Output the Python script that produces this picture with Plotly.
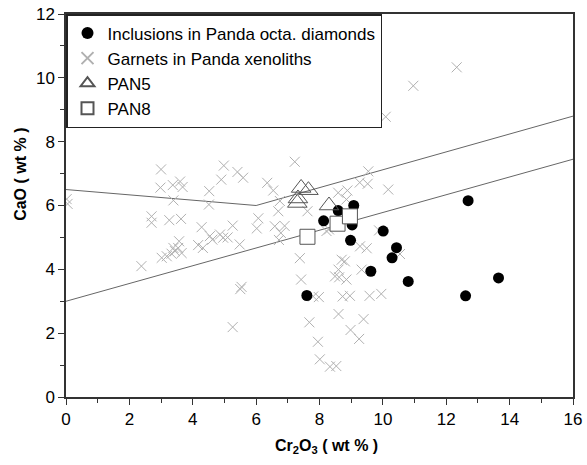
import plotly.graph_objects as go

# Garnets in Panda xenoliths (Cr2O3, CaO)
garnet_cr = [0.02, 0.05, 2.38, 2.7, 2.7, 3.0, 2.98, 3.37, 3.6, 3.68, 3.39, 3.26, 3.63,
             3.02, 3.18, 3.33, 3.44, 3.54, 3.57, 3.65, 3.39, 4.52, 4.51, 4.98, 4.9, 5.41, 5.59,
             4.28, 4.54, 4.62, 4.86, 4.96, 5.1, 5.26, 4.17, 4.32, 5.48, 5.54, 5.5, 5.26,
             6.35, 6.54, 6.75, 6.7, 6.07, 6.02, 6.59, 6.9, 6.78, 6.72, 7.22, 7.62,
             7.38, 7.42, 7.8, 7.98, 7.68, 7.95, 8.01, 8.33, 8.53, 8.6, 9.39, 8.98, 9.25,
             8.73, 8.96, 9.58, 9.95, 8.7, 8.8, 8.6, 8.49, 8.62, 8.85, 9.33,
             9.28, 9.49, 10.54, 8.22, 8.3, 9.88, 8.59, 8.88, 8.85,
             9.27, 9.52, 9.54, 10.17, 10.09, 10.96, 12.33]
garnet_ca = [6.2, 6.05, 4.1, 5.66, 5.46, 7.13, 6.56, 6.64, 6.75, 6.58, 6.16, 5.54, 5.58,
             4.36, 4.41, 4.49, 4.57, 4.67, 4.88, 4.51, 4.67, 6.45, 6.03, 7.25, 6.81, 7.05, 6.87,
             5.32, 5.04, 4.93, 5.09, 4.99, 5.0, 5.37, 4.76, 4.67, 4.78, 3.45, 3.38, 2.19,
             6.71, 6.47, 6.14, 5.82, 5.6, 5.28, 5.35, 5.36, 5.14, 4.92, 7.37, 5.82,
             4.35, 3.68, 3.15, 3.13, 2.34, 1.73, 1.18, 0.95, 0.97, 2.6, 2.44, 2.1, 1.82,
             3.15, 3.17, 3.17, 3.23, 4.3, 4.25, 3.99, 3.78, 3.75, 3.68, 3.99,
             4.72, 4.66, 4.48, 5.2, 5.25, 5.22, 6.4, 6.47, 6.19,
             6.72, 6.68, 7.07, 6.5, 8.78, 9.75, 10.33]

# Inclusions in Panda octahedral diamonds
incl_cr = [7.6, 8.13, 8.59, 9.08, 9.03, 8.98, 9.62, 10.01, 10.43, 10.29, 10.8, 12.69, 12.61, 13.65]
incl_ca = [3.18, 5.52, 5.84, 6.0, 5.39, 4.91, 3.94, 5.2, 4.68, 4.36, 3.62, 6.15, 3.17, 3.73]

# PAN5 and PAN8
pan5_cr = [7.3, 7.32, 7.42, 7.65, 8.3]
pan5_ca = [6.08, 6.22, 6.55, 6.48, 6.0]
pan8_cr = [7.62, 8.57, 8.96]
pan8_ca = [5.02, 5.43, 5.66]

# Reference lines
upper_x = [0, 6, 16]
upper_y = [6.5, 6.0, 8.8]
lower_x = [0, 16]
lower_y = [3.0, 7.45]

x_title = "<b>Cr<sub>2</sub>O<sub>3</sub> ( wt % )</b>"
y_title = "<b>CaO ( wt % )</b>"

FONT = "Liberation Sans, Arial, sans-serif"

fig = go.Figure()
fig.add_trace(go.Scatter(x=upper_x, y=upper_y, mode="lines", line=dict(color="#666", width=1),
                         showlegend=False, hoverinfo="skip"))
fig.add_trace(go.Scatter(x=lower_x, y=lower_y, mode="lines", line=dict(color="#666", width=1),
                         showlegend=False, hoverinfo="skip"))
fig.add_trace(go.Scatter(x=garnet_cr, y=garnet_ca, mode="markers", name="Garnets in Panda xenoliths",
                         legendrank=2,
                         marker=dict(symbol="x-thin-open", size=10, line=dict(color="#b0b0b0", width=1),
                                     color="#b0b0b0")))
fig.add_trace(go.Scatter(x=incl_cr, y=incl_ca, mode="markers", name="Inclusions in Panda octa. diamonds",
                         legendrank=1,
                         marker=dict(symbol="circle", size=11, color="black", line=dict(width=0))))
fig.add_trace(go.Scatter(x=pan5_cr, y=pan5_ca, mode="markers", name="PAN5", legendrank=3,
                         marker=dict(symbol="triangle-up-open", size=17, color="#555",
                                     line=dict(color="#555", width=1))))
fig.add_trace(go.Scatter(x=pan8_cr, y=pan8_ca, mode="markers", name="PAN8", legendrank=4,
                         marker=dict(symbol="square", size=15, color="white",
                                     line=dict(color="#555", width=1))))

axis_common = dict(showline=True, linecolor="#333", linewidth=1.5, mirror=True, showgrid=False,
                   zeroline=False, ticks="outside", ticklen=6, tickcolor="#333", tickwidth=1,
                   automargin=False, ticklabeloverflow="allow",
                   tickfont=dict(family=FONT, size=17, color="black"))
fig.update_xaxes(range=[0, 16], dtick=2, tick0=0,
                 minor=dict(dtick=1, ticks="outside", ticklen=4, tickcolor="#333"),
                 **axis_common)
fig.update_yaxes(range=[0, 12], dtick=2, tick0=0,
                 minor=dict(dtick=1, ticks="outside", ticklen=4, tickcolor="#333"),
                 **axis_common)

fig.add_annotation(text=x_title, xref="paper", yref="paper", x=0.513, y=0,
                   xanchor="center", yanchor="top", yshift=-38, showarrow=False,
                   font=dict(family=FONT, size=16, color="black"))
fig.add_annotation(text=y_title, xref="paper", yref="paper", x=0, y=0.58,
                   xanchor="center", yanchor="middle", xshift=-45, textangle=-90, showarrow=False,
                   font=dict(family=FONT, size=16, color="black"))

fig.update_layout(
    width=587, height=465,
    margin=dict(l=66, r=14, t=14, b=68),
    paper_bgcolor="white", plot_bgcolor="white",
    legend=dict(x=0, y=1, xanchor="left", yanchor="top", bgcolor="white",
                bordercolor="#222", borderwidth=1.5, itemsizing="constant",
                font=dict(family=FONT, size=17, color="black"),
                tracegroupgap=0, itemwidth=30),
    font=dict(family=FONT),
)

fig.write_html("out.html", config={"displayModeBar": False},
               post_script="document.body.style.margin='0';document.body.style.overflow='hidden';")
